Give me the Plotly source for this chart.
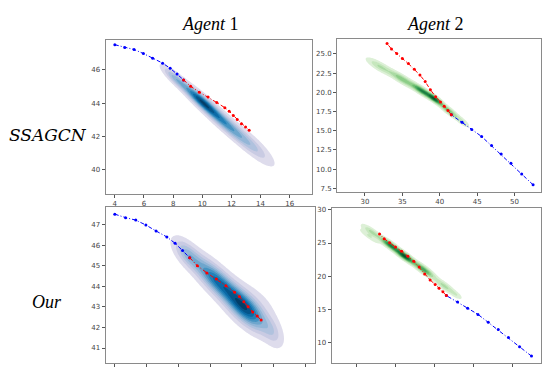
import numpy as np
import plotly.graph_objects as go

# ---------------- trajectories ----------------
# Agent 1: observed history (blue) and ground-truth future (red)
A1_OBS_X = [4.0, 4.68, 5.32, 5.96, 6.6, 7.28, 7.8, 8.27, 8.72]
A1_OBS_Y = [47.52, 47.35, 47.23, 46.99, 46.7, 46.41, 46.1, 45.75, 45.4]
A1_GT_X = [8.72, 9.2, 9.8, 10.4, 11.0, 11.55, 11.85, 12.13, 12.4, 12.69, 12.97, 13.22]
A1_GT_Y = [45.4, 45.01, 44.66, 44.36, 44.03, 43.72, 43.51, 43.25, 43.01, 42.76, 42.56, 42.36]

# Agent 2
A2_OBS_X = [52.48, 50.95, 49.52, 48.21, 46.93, 45.6, 44.28, 42.98, 41.55]
A2_OBS_Y = [7.95, 9.35, 10.76, 11.97, 13.06, 14.24, 15.17, 16.1, 17.07]
A2_GT_X = [41.55, 41.1, 40.6, 40.1, 39.45, 38.75, 38.05, 37.35, 36.6, 35.8, 35.0, 34.25, 33.55, 32.95]
A2_GT_Y = [17.08, 17.65, 18.2, 18.75, 19.43, 20.34, 21.4, 22.25, 23.0, 23.75, 24.4, 25.05, 25.65, 26.35]

# ---------------- predicted-density components ----------------
# SSAGCN, agent 1
KDE1_CX = [8.2, 9.9, 11.5, 13.4]
KDE1_CY = [45.45, 44.15, 42.85, 41.45]
KDE1_SA = [0.7, 1.0, 1.3, 1.1]
KDE1_SP = [0.18, 0.21, 0.25, 0.3]
KDE1_W = [0.45, 1.0, 0.7, 0.28]
KDE1_ANG = [-38, -38, -38, -38]

# SSAGCN, agent 2
KDE2_CX = [32.0, 35.0, 37.6, 39.3, 41.2, 43.0]
KDE2_CY = [23.35, 21.7, 20.2, 19.15, 17.6, 16.2]
KDE2_SA = [1.2, 1.3, 1.0, 0.8, 1.0, 0.7]
KDE2_SP = [0.33, 0.3, 0.26, 0.23, 0.24, 0.24]
KDE2_W = [0.3, 0.5, 0.85, 1.0, 0.55, 0.2]
KDE2_ANG = [-30, -31, -33, -35, -37, -37]

# Our, agent 1
KDE3_CX = [8.6, 10.4, 12.2, 13.0, 13.9]
KDE3_CY = [45.55, 44.3, 42.95, 43.15, 41.8]
KDE3_SA = [0.65, 1.1, 1.0, 1.0, 0.55]
KDE3_SP = [0.3, 0.36, 0.4, 0.55, 0.32]
KDE3_W = [0.4, 0.85, 1.0, 0.07, 0.2]
KDE3_ANG = [-38, -36, -36, -30, -50]

# Our, agent 2
KDE4_CX = [32.0, 31.6, 34.3, 36.2, 38.6, 41.3, 42.8]
KDE4_CY = [26.6, 26.0, 24.7, 23.0, 21.0, 18.5, 17.2]
KDE4_SA = [1.0, 1.0, 1.0, 1.0, 1.1, 1.1, 0.6]
KDE4_SP = [0.3, 0.2, 0.28, 0.28, 0.3, 0.3, 0.25]
KDE4_W = [0.3, 0.15, 0.8, 1.0, 0.65, 0.3, 0.12]
KDE4_ANG = [-41, -41, -41, -41, -41, -41, -41]

ROW_LABELS = ["SSAGCN", "Our"]
COL_LABELS = ["Agent", "Agent"]
COL_NUMS = ["1", "2"]

# ---------------- layout helpers ----------------
W, H = 542, 367


def px_x(p):
    return p / W


def px_y(p):
    return 1 - p / H


def density(cx, cy, sa, sp, w, ang, xr, yr, n=220):
    gx = np.linspace(xr[0], xr[1], n)
    gy = np.linspace(yr[0], yr[1], n)
    X, Y = np.meshgrid(gx, gy)
    Z = np.zeros_like(X)
    for x0, y0, a, p, wt, an in zip(cx, cy, sa, sp, w, ang):
        th = np.deg2rad(an)
        dx, dy = X - x0, Y - y0
        u = dx * np.cos(th) + dy * np.sin(th)
        v = -dx * np.sin(th) + dy * np.cos(th)
        Z += wt * np.exp(-0.5 * (u / a) ** 2 - 0.5 * (v / p) ** 2)
    Z /= Z.max()
    return gx, gy, Z


BLUE_BANDS = ["#dedcec", "#c9cbe3", "#b0c2de", "#93b6d7", "#6ea6cd",
              "#4593c2", "#2280b8", "#0b6aa6", "#05558a", "#033e68"]
GREEN_BANDS = ["#dcf0d5", "#c3e6ba", "#a6d99f", "#86cb81", "#62b967",
               "#3ea357", "#238b45", "#0f7736", "#03612a", "#00441b"]


def band_scale(cols):
    sc = [[0.0, "rgba(255,255,255,0)"], [0.05, "rgba(255,255,255,0)"]]
    n = len(cols)
    for i, c in enumerate(cols):
        sc.append([(i + 1) / n, c])
    return sc


panels = [
    dict(ax="", xr=[3.36, 17.54], yr=[38.52, 47.8],
         xd=[px_x(105.7), px_x(312.7)], yd=[px_y(194), px_y(39.3)],
         xt=[4, 6, 8, 10, 12, 14, 16], yt=[40, 42, 44, 46], yfmt="",
         kde=(KDE1_CX, KDE1_CY, KDE1_SA, KDE1_SP, KDE1_W, KDE1_ANG),
         bands=BLUE_BANDS, op=1.0, traj=1, xlab=True),
    dict(ax="2", xr=[26.27, 53.47], yr=[7.06, 26.94],
         xd=[px_x(337.7), px_x(541.5)], yd=[px_y(191.7), px_y(38.3)],
         xt=[30, 35, 40, 45, 50], yt=[7.5, 10, 12.5, 15, 17.5, 20, 22.5, 25], yfmt=".1f",
         kde=(KDE2_CX, KDE2_CY, KDE2_SA, KDE2_SP, KDE2_W, KDE2_ANG),
         bands=GREEN_BANDS, op=0.95, traj=2, xlab=True),
    dict(ax="3", xr=[3.415, 16.64], yr=[40.27, 47.86],
         xd=[px_x(105.7), px_x(316)], yd=[px_y(364), px_y(207.3)],
         xt=[4, 6, 8, 10, 12, 14, 16], yt=[41, 42, 43, 44, 45, 46, 47], yfmt="",
         kde=(KDE3_CX, KDE3_CY, KDE3_SA, KDE3_SP, KDE3_W, KDE3_ANG),
         bands=BLUE_BANDS, op=1.0, traj=1, xlab=False),
    dict(ax="4", xr=[26.8, 53.64], yr=[6.86, 30.35],
         xd=[px_x(332.3), px_x(541.5)], yd=[px_y(364.3), px_y(207.7)],
         xt=[30, 35, 40, 45, 50], yt=[10, 15, 20, 25, 30], yfmt="",
         kde=(KDE4_CX, KDE4_CY, KDE4_SA, KDE4_SP, KDE4_W, KDE4_ANG),
         bands=GREEN_BANDS, op=0.95, traj=2, xlab=False),
]

fig = go.Figure()
layout = dict(
    width=W, height=H, margin=dict(l=0, r=0, t=0, b=0),
    paper_bgcolor="white", plot_bgcolor="white", showlegend=False,
)

tick_font = dict(family="DejaVu Sans", size=7, color="#444")

for p in panels:
    xa, ya = "x" + p["ax"], "y" + p["ax"]
    gx, gy, Z = density(*p["kde"], p["xr"], p["yr"])
    fig.add_trace(go.Contour(
        x=gx, y=gy, z=Z, xaxis=xa, yaxis=ya,
        contours=dict(start=0.05, end=0.95, size=0.1, coloring="fill", showlines=False),
        line=dict(width=0), colorscale=band_scale(p["bands"]), showscale=False,
        opacity=p["op"], hoverinfo="skip",
    ))
    if p["traj"] == 1:
        ox, oy, gtx, gty = A1_OBS_X, A1_OBS_Y, A1_GT_X, A1_GT_Y
    else:
        ox, oy, gtx, gty = A2_OBS_X, A2_OBS_Y, A2_GT_X, A2_GT_Y
    fig.add_trace(go.Scatter(
        x=ox, y=oy, xaxis=xa, yaxis=ya, mode="lines+markers",
        line=dict(color="blue", width=1, dash="4px,2px,1px,2px"),
        marker=dict(color="blue", size=3, symbol="circle"),
    ))
    fig.add_trace(go.Scatter(
        x=gtx, y=gty, xaxis=xa, yaxis=ya, mode="lines+markers",
        line=dict(color="red", width=1, dash="4px,2px,1px,2px"),
        marker=dict(color="red", size=3, symbol="circle"),
    ))
    common = dict(showline=True, linecolor="#8a8a8a", linewidth=1, mirror=True,
                  showgrid=False, zeroline=False, ticks="outside", ticklen=3,
                  tickwidth=0.8, tickcolor="#555", tickfont=tick_font)
    layout["xaxis" + p["ax"]] = dict(
        domain=p["xd"], range=p["xr"], anchor=ya, tickvals=p["xt"],
        showticklabels=p["xlab"], **common)
    layout["yaxis" + p["ax"]] = dict(
        domain=p["yd"], range=p["yr"], anchor=xa, tickvals=p["yt"],
        tickformat=p["yfmt"], **common)

title_font = dict(family="Liberation Serif", size=18, color="black")
annotations = [
    dict(text="<i>%s</i> %s" % (COL_LABELS[0], COL_NUMS[0]), x=px_x(211), y=px_y(23.5)),
    dict(text="<i>%s</i> %s" % (COL_LABELS[1], COL_NUMS[1]), x=px_x(436), y=px_y(23.5)),
    dict(text="<i>%s</i>" % ROW_LABELS[0], x=px_x(48), y=px_y(135),
         font=dict(family="DejaVu Serif", size=17, color="black")),
    dict(text="<i>%s</i>" % ROW_LABELS[1], x=px_x(47.5), y=px_y(303)),
]
layout["annotations"] = [
    dict(xref="paper", yref="paper", showarrow=False, xanchor="center", yanchor="middle",
         font=a.pop("font", title_font), **a) for a in annotations
]
fig.update_layout(**layout)
fig.write_html(
    "out.html",
    config={"displayModeBar": False},
    post_script="document.body.style.margin='0';document.body.style.overflow='hidden';",
)
